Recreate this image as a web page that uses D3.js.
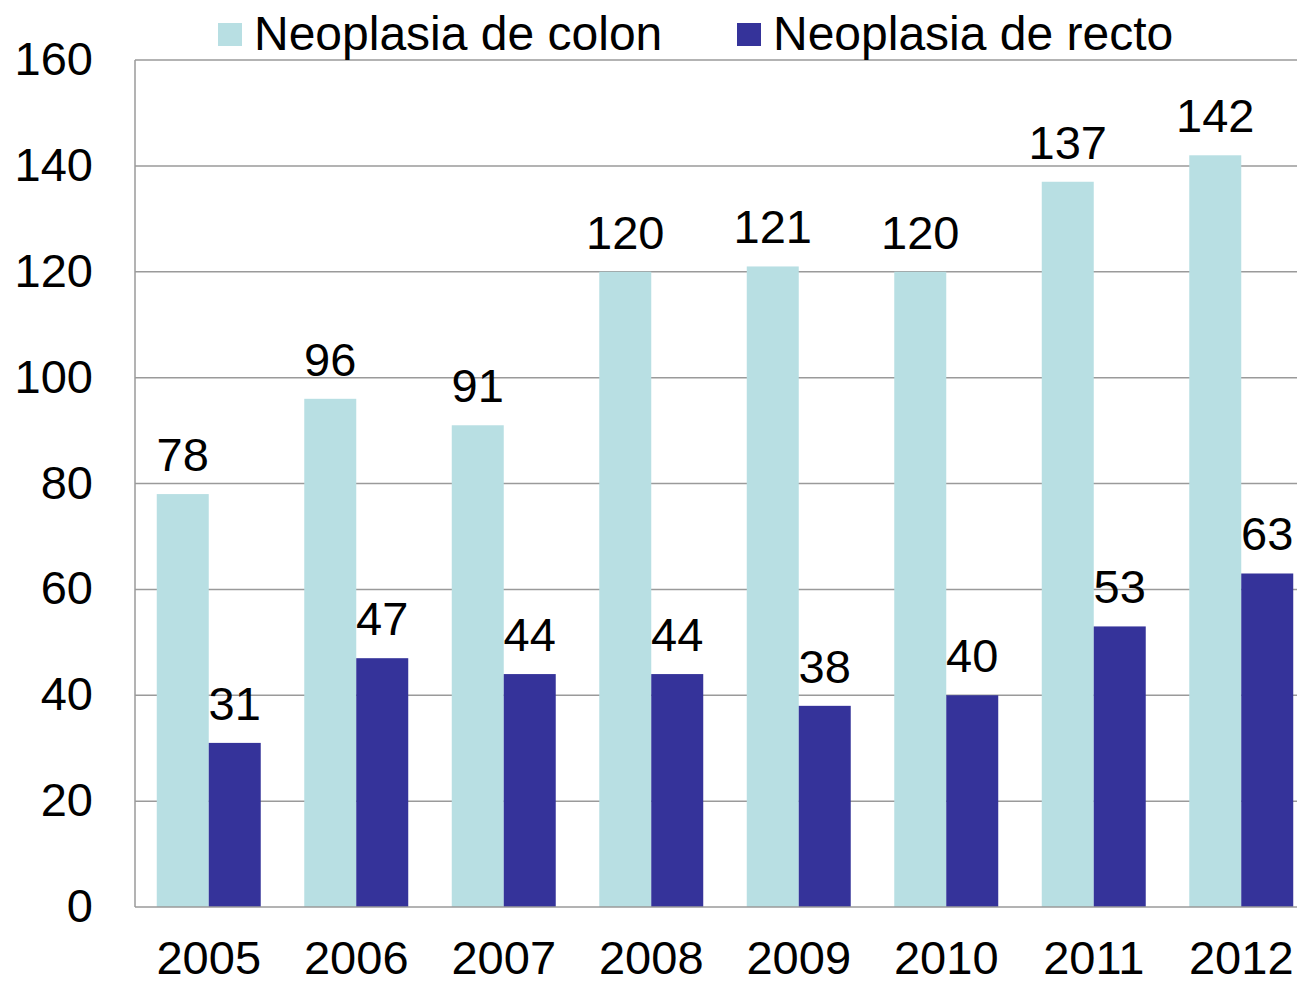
<!DOCTYPE html>
<html>
<head>
<meta charset="utf-8">
<script src="https://cdn.jsdelivr.net/npm/d3@7"></script>
<style>
  html, body { margin: 0; padding: 0; background: #fff; overflow: hidden; }
  #chart { width: 1297px; height: 985px; }
  text { font-family: "Liberation Sans", Arial, sans-serif; fill: #000; }
</style>
</head>
<body>
<div id="chart"></div>
<script>
const years = ["2005", "2006", "2007", "2008", "2009", "2010", "2011", "2012"];
const colonValues = [78, 96, 91, 120, 121, 120, 137, 142];
const rectoValues = [31, 47, 44, 44, 38, 40, 53, 63];
const seriesNames = ["Neoplasia de colon", "Neoplasia de recto"];
const yTicks = [0, 20, 40, 60, 80, 100, 120, 140, 160];

const seriesColors = ["#b8dfe3", "#35339a"];
const gridColor = "#9a9a9a";
const fontSize = 47;

const W = 1297, H = 985;
const plotLeft = 135, plotTop = 60, plotBottom = 907;
// the original picture is cut off on the right, so the plot runs past the edge
const plotRight = plotLeft + 8 * 147.5;

const rows = years.map((y, i) => ({
    year: y,
    values: [colonValues[i], rectoValues[i]]
}));

const svg = d3.select("#chart").append("svg")
    .attr("width", W)
    .attr("height", H);

const x0 = d3.scaleBand()
    .domain(years)
    .range([plotLeft, plotRight])
    .paddingInner(0.295)
    .paddingOuter(0.1475);

const x1 = d3.scaleBand()
    .domain([0, 1])
    .range([0, x0.bandwidth()]);

const y = d3.scaleLinear()
    .domain([0, 160])
    .range([plotBottom, plotTop]);

// gridlines
svg.append("g")
    .selectAll("line")
    .data(yTicks.filter(d => d > 0))
    .join("line")
    .attr("x1", plotLeft)
    .attr("x2", plotRight)
    .attr("y1", d => y(d))
    .attr("y2", d => y(d))
    .attr("stroke", gridColor)
    .attr("stroke-width", 1.5);

// bars
const groups = svg.append("g")
    .selectAll("g")
    .data(rows)
    .join("g")
    .attr("transform", d => `translate(${x0(d.year)},0)`);

groups.selectAll("rect")
    .data(d => d.values.map((v, k) => ({ k, v })))
    .join("rect")
    .attr("x", d => x1(d.k))
    .attr("width", x1.bandwidth())
    .attr("y", d => y(d.v))
    .attr("height", d => y(0) - y(d.v))
    .attr("fill", d => seriesColors[d.k]);

groups.selectAll("text")
    .data(d => d.values.map((v, k) => ({ k, v })))
    .join("text")
    .attr("x", d => x1(d.k) + x1.bandwidth() / 2)
    .attr("y", d => y(d.v) - 23)
    .attr("text-anchor", "middle")
    .style("font-size", fontSize + "px")
    .text(d => d.v);

// axes lines
svg.append("line")
    .attr("x1", plotLeft).attr("x2", plotLeft)
    .attr("y1", plotTop).attr("y2", plotBottom)
    .attr("stroke", gridColor).attr("stroke-width", 1.5);
svg.append("line")
    .attr("x1", plotLeft).attr("x2", plotRight)
    .attr("y1", plotBottom).attr("y2", plotBottom)
    .attr("stroke", gridColor).attr("stroke-width", 1.5);

// y tick labels
svg.append("g")
    .selectAll("text")
    .data(yTicks)
    .join("text")
    .attr("x", 93)
    .attr("y", d => y(d) + 15)
    .attr("text-anchor", "end")
    .style("font-size", fontSize + "px")
    .text(d => d);

// x labels
svg.append("g")
    .selectAll("text")
    .data(years)
    .join("text")
    .attr("x", d => x0(d) + x0.bandwidth() / 2)
    .attr("y", 974)
    .attr("text-anchor", "middle")
    .style("font-size", fontSize + "px")
    .text(d => d);

// legend
const legendX = [218, 737];
const legend = svg.append("g")
    .selectAll("g")
    .data(seriesNames)
    .join("g")
    .attr("transform", (d, i) => `translate(${legendX[i]},0)`);

legend.append("rect")
    .attr("x", 0)
    .attr("y", 23)
    .attr("width", 24)
    .attr("height", 23)
    .attr("fill", (d, i) => seriesColors[i]);

legend.append("text")
    .attr("x", 36)
    .attr("y", 50)
    .style("font-size", "48px")
    .text(d => d);
</script>
</body>
</html>
